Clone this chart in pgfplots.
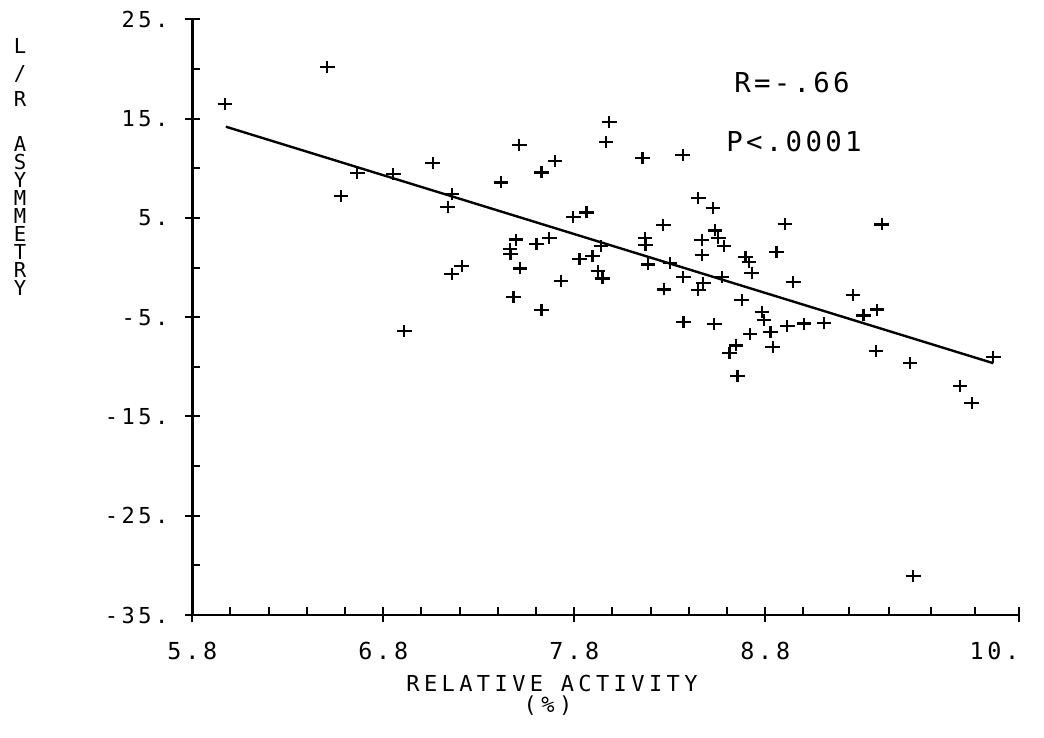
\documentclass[border=0pt]{standalone}
\usepackage{fontspec}
\usepackage{pgfplots}
\usepackage{pgfplotstable}
\pgfplotsset{compat=1.18}
\newfontfamily\pf{DejaVu Sans Mono}[LetterSpace=16]
\newfontfamily\af{DejaVu Sans Mono}[LetterSpace=12]
\newfontfamily\lf{DejaVu Sans Mono}[LetterSpace=20]
\pgfdeclareplotmark{hplus}{%
  \pgfpathmoveto{\pgfqpoint{-3.7pt}{0pt}}\pgfpathlineto{\pgfqpoint{3.7pt}{0pt}}%
  \pgfpathmoveto{\pgfqpoint{0pt}{-3pt}}\pgfpathlineto{\pgfqpoint{0pt}{3pt}}%
  \pgfusepathqstroke}
\pgfplotstableread{
x y
5.971 16.47
6.507 20.23
6.664 9.49
6.579 7.21
6.852 9.42
7.059 10.50
7.158 7.38
7.137 6.07
7.210 0.16
7.158 -0.68
6.910 -6.39
7.416 8.57
7.512 12.34
7.628 9.57
7.699 10.76
7.495 2.82
7.463 1.84
7.466 1.36
7.602 2.37
7.669 2.95
7.516 -0.10
7.482 -2.94
7.628 -4.27
7.730 -1.32
7.795 5.12
7.864 5.54
7.827 0.86
7.895 1.16
7.940 2.14
7.924 -0.32
7.948 -1.10
7.983 14.69
7.966 12.67
8.157 11.03
8.368 11.36
8.449 6.97
8.526 6.03
8.266 4.29
8.170 2.98
8.173 2.27
8.537 3.73
8.467 2.77
8.554 2.98
8.584 2.17
8.469 1.26
8.903 4.39
8.859 1.60
8.696 1.09
8.715 0.56
8.729 -0.58
8.947 -1.46
8.186 0.31
8.301 0.43
8.371 -0.92
8.573 -0.95
8.270 -2.21
8.449 -2.26
8.475 -1.59
8.676 -3.27
8.783 -4.45
8.793 -5.28
9.259 -2.76
9.314 -4.83
9.385 -4.24
8.372 -5.45
8.532 -5.68
8.720 -6.66
8.827 -6.46
8.915 -5.92
9.003 -5.65
9.107 -5.55
8.647 -7.85
8.613 -8.61
8.839 -8.02
8.654 -10.92
9.380 -8.40
9.409 4.34
9.558 -9.58
9.819 -11.93
9.881 -13.61
9.994 -9.04
9.575 -31.06
}\pts
\begin{document}
\begin{tikzpicture}
\path[use as bounding box] (-96.15pt,-61.5pt) rectangle (425.85pt,307.5pt);
\begin{axis}[
  at={(0pt,0pt)}, anchor=south west,
  scale only axis, width=413.5pt, height=297.85pt,
  xmin=5.8, xmax=10.13, ymin=-35, ymax=25,
  clip=false,
  axis x line=bottom, axis y line=left,
  x axis line style={-, line width=0.9pt},
  y axis line style={-, line width=1.3pt},
  xtick={5.8,6.8,7.8,8.8,10.13},
  xticklabels={5.8,6.8,7.8,8.8,\makebox[0pt][r]{10.}},
  minor xtick={6.0,6.2,6.4,6.6,7.0,7.2,7.4,7.6,8.0,8.2,8.4,8.6,9.0,9.24,9.45,9.67,9.9},
  ytick={-35,-25,-15,-5,5,15,25},
  yticklabels={-35.,-25.,-15.,-5.,5.,15.,25.},
  minor ytick={-30,-20,-10,0,10,20},
  tick align=center, major tick length=7.5pt, minor tick length=4pt,
  tick style={black, line width=1pt},
  every minor x tick/.append style={yshift=2pt},
  every minor y tick/.append style={xshift=2pt},
  yticklabel style={font=\fontsize{11}{11}\selectfont\pf, anchor=east, inner sep=0pt, xshift=-8pt},
  xticklabel style={font=\fontsize{11.7}{11.7}\selectfont\pf, anchor=north, inner sep=0pt, yshift=-9.5pt},
]
\addplot[only marks, mark=hplus, mark options={line width=1.1pt, black}] table[x=x, y=y] {\pts};
\addplot[no marks, black, line width=1.2pt] coordinates {(5.976,14.18) (9.994,-9.64)};
\end{axis}
\node[font=\fontsize{13.7}{13.7}\selectfont\af] at (299.85pt,266pt) {R=-.66};
\node[font=\fontsize{13.7}{13.7}\selectfont\af] at (300.85pt,236.5pt) {P<.0001};
\node[font=\fontsize{11}{11}\selectfont\lf] at (179.85pt,-34pt) {RELATIVE ACTIVITY};
\node[font=\fontsize{11}{11}\selectfont\lf] at (177.85pt,-45.5pt) {(\%)};
\node[font=\fontsize{10.3}{13.25}\selectfont\pf, inner sep=0pt, align=center] at (-86.15pt,271.25pt) {L\\/\\R};
\node[font=\fontsize{10.3}{9}\selectfont\pf, inner sep=0pt, align=center] at (-86.15pt,199.5pt) {A\\S\\Y\\M\\M\\E\\T\\R\\Y};
\end{tikzpicture}
\end{document}
